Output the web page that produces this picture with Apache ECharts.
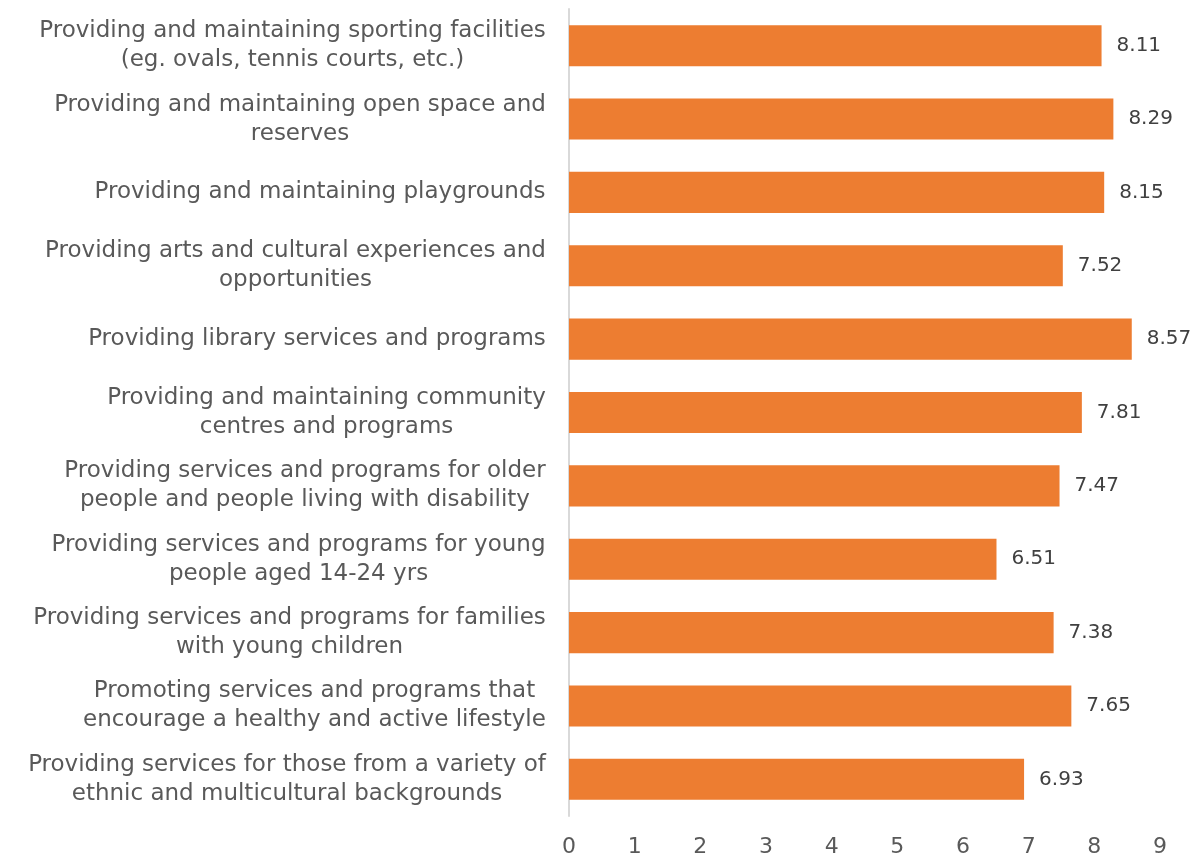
<!DOCTYPE html>
<html>
	<head>
		<meta charset="UTF-8">
		<title></title>
		<script src="https://cdn.jsdelivr.net/npm/echarts@6/dist/echarts.min.js" type="text/javascript" charset="utf-8"></script>
	</head>
	<style type="text/css">
		* {
			margin: 0;
			padding: 0;
		}
		#app {
			width: 1196px;
			height: 859px;
		}
	</style>
	<body>
		<div id="app"></div>
		<script type="text/javascript">
			var categories = [
				'Providing and maintaining sporting facilities\n(eg. ovals, tennis courts, etc.)',
				'Providing and maintaining open space and\nreserves',
				'Providing and maintaining playgrounds',
				'Providing arts and cultural experiences and\nopportunities',
				'Providing library services and programs',
				'Providing and maintaining community\ncentres and programs',
				'Providing services and programs for older\npeople and people living with disability',
				'Providing services and programs for young\npeople aged 14-24 yrs',
				'Providing services and programs for families\nwith young children',
				'Promoting services and programs that\nencourage a healthy and active lifestyle',
				'Providing services for those from a variety of\nethnic and multicultural backgrounds'
			];
			var scores = [8.11, 8.29, 8.15, 7.52, 8.57, 7.81, 7.47, 6.51, 7.38, 7.65, 6.93];
			var xTicks = [0, 1, 2, 3, 4, 5, 6, 7, 8, 9];

			var myChart = echarts.init(document.getElementById('app'));
			var font = '"DejaVu Sans", sans-serif';
			var catSize = 23;

			// each label block is right-aligned, its lines centred within the block
			var ctx = document.createElement('canvas').getContext('2d');
			ctx.font = catSize + 'px ' + font;
			var rich = {};
			categories.forEach(function(c, i) {
				var w = 0;
				c.split('\n').forEach(function(l) {
					w = Math.max(w, ctx.measureText(l).width);
				});
				rich['c' + i] = {
					width: Math.ceil(w),
					align: 'center',
					color: '#595959',
					fontSize: catSize,
					fontFamily: font,
					lineHeight: 29
				};
			});

			var option = {
				animation: false,
				grid: {
					left: 569,
					right: 36,
					top: 9,
					bottom: 43,
					containLabel: false
				},
				xAxis: {
					type: 'value',
					min: xTicks[0],
					max: xTicks[xTicks.length - 1],
					interval: 1,
					splitLine: { show: false },
					axisLine: { show: false },
					axisTick: { show: false },
					axisLabel: {
						color: '#595959',
						fontSize: 22,
						fontFamily: font,
						margin: 20
					}
				},
				yAxis: {
					type: 'category',
					inverse: true,
					data: categories,
					axisLine: { show: true, lineStyle: { color: '#d9d9d9', width: 2 } },
					axisTick: { show: false },
					axisLabel: {
						align: 'right',
						margin: 23,
						formatter: function(v, i) {
							return v.split('\n').map(function(l) {
								return '{c' + i + '|' + l + '}';
							}).join('\n');
						},
						rich: rich
					}
				},
				series: [{
					type: 'bar',
					data: scores,
					barCategoryGap: '44%',
					itemStyle: { color: '#ED7D31' },
					label: {
						show: true,
						position: 'right',
						distance: 15,
						color: '#404040',
						fontSize: 20,
						fontFamily: font,
						formatter: function(p) { return p.value.toFixed(2); }
					}
				}]
			};
			myChart.setOption(option);
		</script>
	</body>
</html>
